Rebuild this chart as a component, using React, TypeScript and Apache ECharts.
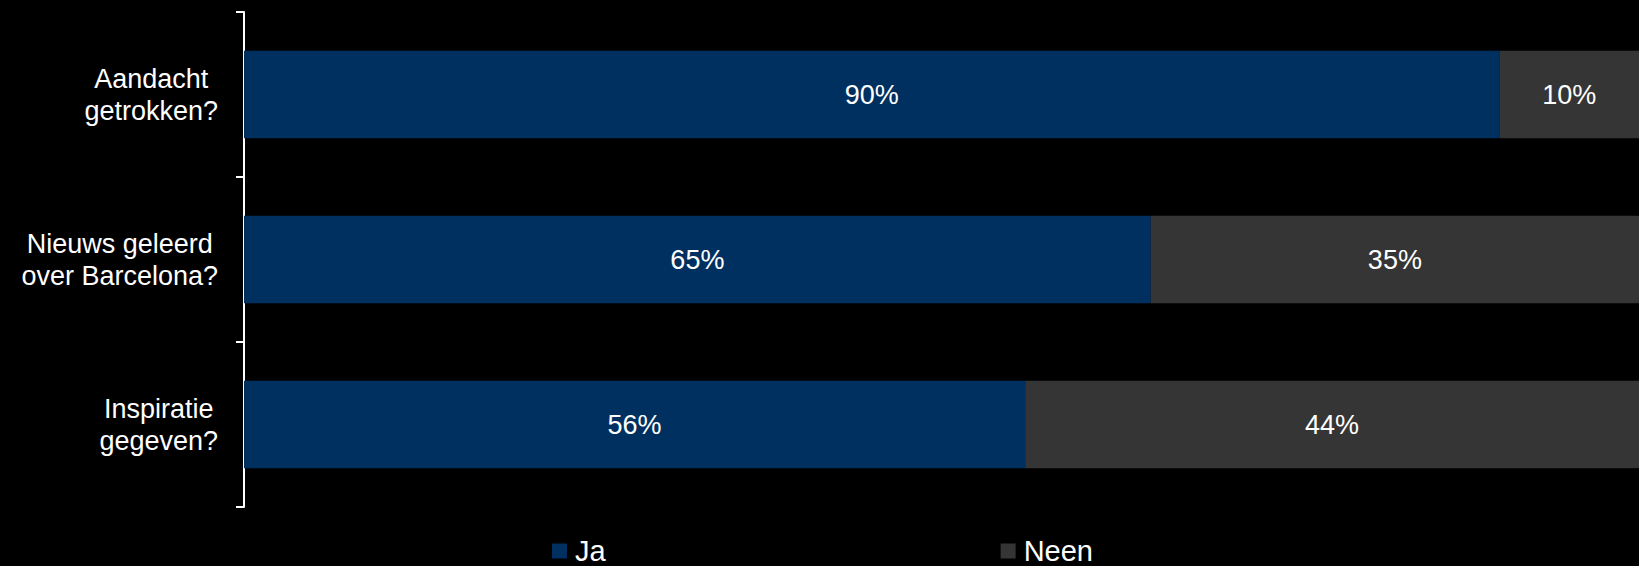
import React, { useEffect, useRef } from "react";
import * as echarts from "echarts";

const categories = ["Aandacht\ngetrokken?", "Nieuws geleerd\nover Barcelona?", "Inspiratie\ngegeven?"];
const jaValues = [90, 65, 56];
const neenValues = [10, 35, 44];
const seriesNames = ["Ja", "Neen"];
const colors = ["#00305F", "#353535"];

export default function App() {
  const ref = useRef<HTMLDivElement>(null);
  useEffect(() => {
    document.body.style.margin = "0";
    const chart = echarts.init(ref.current!, null, { renderer: "svg" });
    const font = "Liberation Sans, Arial, sans-serif";
    const labelCfg = {
      show: true,
      position: "inside",
      color: "#ffffff",
      fontSize: 27,
      fontFamily: font,
      formatter: (p: any) => p.value + "%",
    };
    chart.setOption({
      animation: false,
      backgroundColor: "#000000",
      grid: { left: 244, right: -7, top: 12, bottom: 59, containLabel: false },
      legend: {
        left: 547,
        top: 531,
        padding: 5,
        itemWidth: 15,
        itemHeight: 15,
        itemGap: 395,
        icon: "rect",
        selectedMode: false,
        textStyle: { color: "#ffffff", fontSize: 29, fontFamily: font, lineHeight: 30, padding: [0, 0, 0, 3] },
        data: seriesNames,
      },
      xAxis: { type: "value", min: 0, max: 100, show: false },
      yAxis: {
        type: "category",
        inverse: true,
        data: categories,
        axisLine: { show: true, lineStyle: { color: "#ffffff", width: 2 } },
        axisTick: { show: true, length: 8, lineStyle: { color: "#ffffff", width: 2 } },
        axisLabel: {
          margin: 26,
          color: "#ffffff",
          fontSize: 27,
          fontFamily: font,
          lineHeight: 32,
          formatter: (v: string) => v.split("\n").map((l) => "{c|" + l + "}").join("\n"),
          rich: { c: { align: "center", color: "#ffffff", fontSize: 27, fontFamily: font, lineHeight: 32 } },
        },
      },
      series: [
        { name: seriesNames[0], type: "bar", stack: "t", data: jaValues, itemStyle: { color: colors[0] }, barCategoryGap: "47%", label: labelCfg },
        { name: seriesNames[1], type: "bar", stack: "t", data: neenValues, itemStyle: { color: colors[1] }, barCategoryGap: "47%", label: labelCfg },
      ],
    });
    return () => chart.dispose();
  }, []);
  return <div ref={ref} style={{ position: "fixed", left: 0, top: 0, width: 1639, height: 566 }} />;
}
